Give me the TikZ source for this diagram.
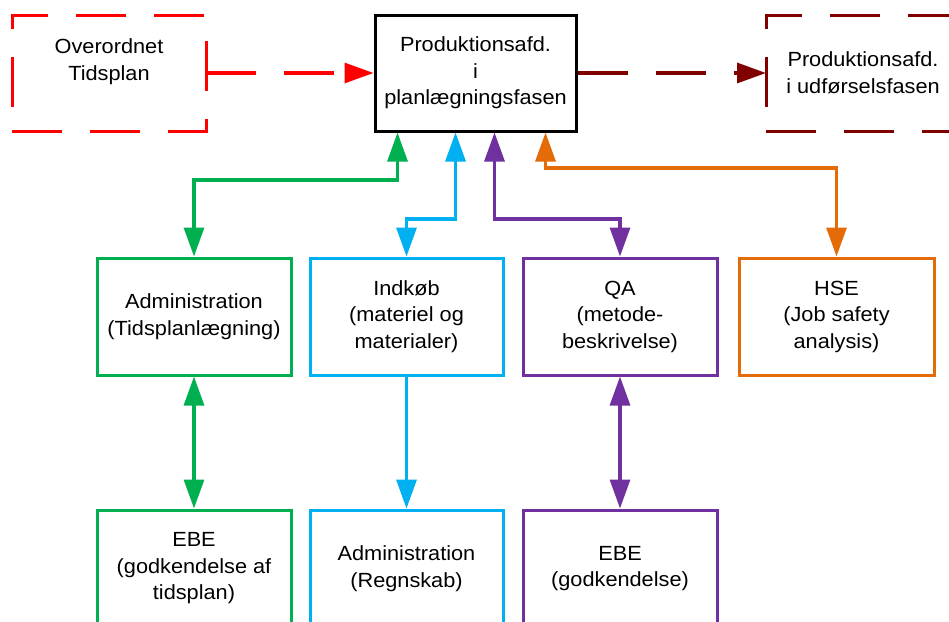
\documentclass[tikz,border=0pt]{standalone}
\usepackage{fontspec}
\setmainfont{Liberation Sans}[FakeStretch=1.06]
\usetikzlibrary{arrows.meta}
\definecolor{cgreen}{HTML}{00B050}
\definecolor{cblue}{HTML}{00B0F0}
\definecolor{cpurple}{HTML}{7030A0}
\definecolor{corange}{HTML}{E36C09}
\definecolor{cred}{HTML}{FF0000}
\definecolor{cdarkred}{HTML}{800000}
\begin{document}
\begin{tikzpicture}[x=1pt,y=-1pt,
  box/.style={rectangle, minimum width=194pt, minimum height=117pt, inner sep=0pt,
    align=center, font=\fontsize{20.5}{26.5}\selectfont, line width=3pt},
  dashbox/.style={box, outer sep=0pt},
  boxdash/.style={line width=3pt, dash pattern=on 50pt off 28pt},
  link/.style={line width=3.2pt},
  head/.tip={Triangle[length=29pt,width=20pt]},
  one/.style={-head},
  both/.style={head-head},
  flow/.style={link, -head, dash pattern=on 50pt off 28pt}]
\useasboundingbox (0,0) rectangle (949,621);
\clip (0,0) rectangle (949,621);

% top row
\node[box, draw=black, minimum width=201pt, minimum height=116pt] (prod) at (475.5,73)
  {Produktionsafd.\\i\\planlægningsfasen};
\node[dashbox, minimum height=116pt] (over) at (109,73) {Overordnet\\Tidsplan\\\mbox{}};
\node[dashbox, minimum height=116pt] (udf) at (863,73) {Produktionsafd.\\i udførselsfasen};
\draw[boxdash, cred] (over.south west) -- (over.south east) -- (over.north east)
  -- (over.north west) -- cycle;
\draw[boxdash, cdarkred] (udf.south west) -- (udf.south east) -- (udf.north east)
  -- (udf.north west) -- cycle;
\draw[flow, cred] (over.east) -- (prod.west);
\draw[flow, cdarkred] (prod.east) -- (udf.west);

% middle row
\node[box, draw=cgreen] (adm) at (194,316.5) {Administration\\(Tidsplanlægning)};
\node[box, draw=cblue, minimum width=193pt] (ind) at (406.5,316.5) {Indkøb\\(materiel og\\materialer)};
\node[box, draw=cpurple] (qa) at (620,316.5) {QA\\(metode-\\beskrivelse)};
\node[box, draw=corange, minimum width=195pt] (hse) at (836.5,316.5) {HSE\\(Job safety\\analysis)};

% bottom row
\node[box, draw=cgreen] (ebea) at (194,568.5) {EBE\\(godkendelse af\\tidsplan)};
\node[box, draw=cblue, minimum width=193pt] (regn) at (406.5,568.5) {Administration\\(Regnskab)};
\node[box, draw=cpurple] (ebeb) at (620,568.5) {EBE\\(godkendelse)};

% connector levels
\coordinate (gY) at (0,180);
\coordinate (bY) at (0,219);
\coordinate (oY) at (0,168);

\draw[link, cgreen, both] (adm.north) -- (adm.north |- gY) -| ([xshift=24pt]prod.south west);
\draw[link, cblue, both] (ind.north) -- (ind.north |- bY) -| ([xshift=82pt]prod.south west);
\draw[link, cpurple, both] (qa.north) -- (qa.north |- bY) -| ([xshift=121pt]prod.south west);
\draw[link, corange, both] (hse.north) -- (hse.north |- oY) -| ([xshift=172pt]prod.south west);

\draw[link, cgreen, both] (adm.south) -- (ebea.north);
\draw[link, cblue, one] (ind.south) -- (regn.north);
\draw[link, cpurple, both] (qa.south) -- (ebeb.north);
\end{tikzpicture}
\end{document}
